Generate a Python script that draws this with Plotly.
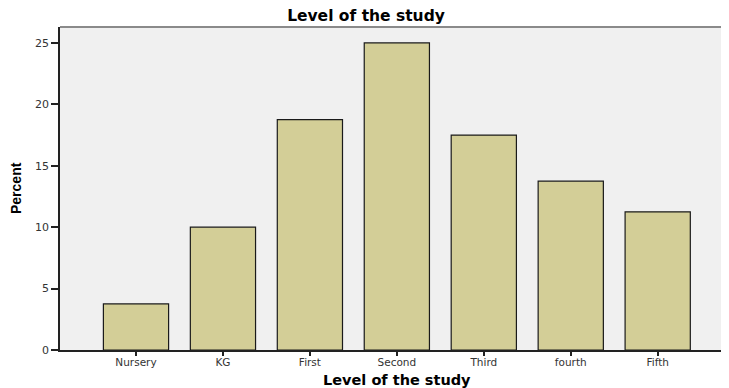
import plotly.graph_objects as go

categories = ["Nursery", "KG", "First", "Second", "Third", "fourth", "Fifth"]
percent = [3.75, 10.0, 18.75, 25.0, 17.5, 13.75, 11.25]
y_ticks = [0, 5, 10, 15, 20, 25]

# The page body has an 8px margin, so the figure is sized/placed to compensate.
fig = go.Figure()
fig.add_trace(go.Bar(
    x=list(range(len(categories))),
    y=percent,
    width=0.75,
    marker=dict(color="#D3CE97", line=dict(color="#1a1a1a", width=1.2)),
    hoverinfo="skip",
))

fig.update_layout(
    width=721, height=380,
    margin=dict(l=52, r=0, t=19, b=38, autoexpand=False),
    paper_bgcolor="white",
    plot_bgcolor="#F0F0F0",
    showlegend=False,
    title=dict(text="<b>Level of the study</b>", x=358/721, xanchor="center",
               y=1 - 8/380, yanchor="middle",
               font=dict(family="DejaVu Sans", size=15.5, color="black")),
    xaxis=dict(
        tickmode="array",
        tickvals=list(range(len(categories))),
        ticktext=categories,
        range=[-0.874, 6.82],
        automargin=False,
        showgrid=False, zeroline=False,
        showline=True, linecolor="#222", linewidth=1.5,
        ticks="outside", ticklen=4, tickcolor="#222", tickwidth=1.5,
        ticklabelstandoff=-2,
        tickfont=dict(family="DejaVu Sans", size=10.5, color="#333"),
    ),
    yaxis=dict(
        tickmode="array",
        tickvals=y_ticks,
        range=[0, 26.3],
        automargin=False,
        showgrid=False, zeroline=False,
        showline=True, linecolor="#222", linewidth=1.5,
        ticks="outside", ticklen=7, tickcolor="#222", tickwidth=1.5,
        tickfont=dict(family="DejaVu Sans", size=11, color="#333"),
    ),
    annotations=[
        dict(text="<b>Level of the study</b>", xref="paper", yref="paper",
             x=(397 - 60) / 669, y=-(380 - 350) / 323, xanchor="center", yanchor="middle",
             showarrow=False, font=dict(family="DejaVu Sans", size=14.5, color="black")),
        dict(text="<b>Percent</b>", xref="paper", yref="paper",
             x=-(60 - 16) / 669, y=(350 - 188) / 323, xanchor="center", yanchor="middle",
             textangle=-90, showarrow=False,
             font=dict(family="Liberation Sans", size=14, color="black")),
    ],
    shapes=[dict(type="line", xref="paper", yref="paper", x0=0, x1=1, y0=1, y1=1,
                 line=dict(color="#8a8a8a", width=2))],
)

fig.write_html("out.html")
